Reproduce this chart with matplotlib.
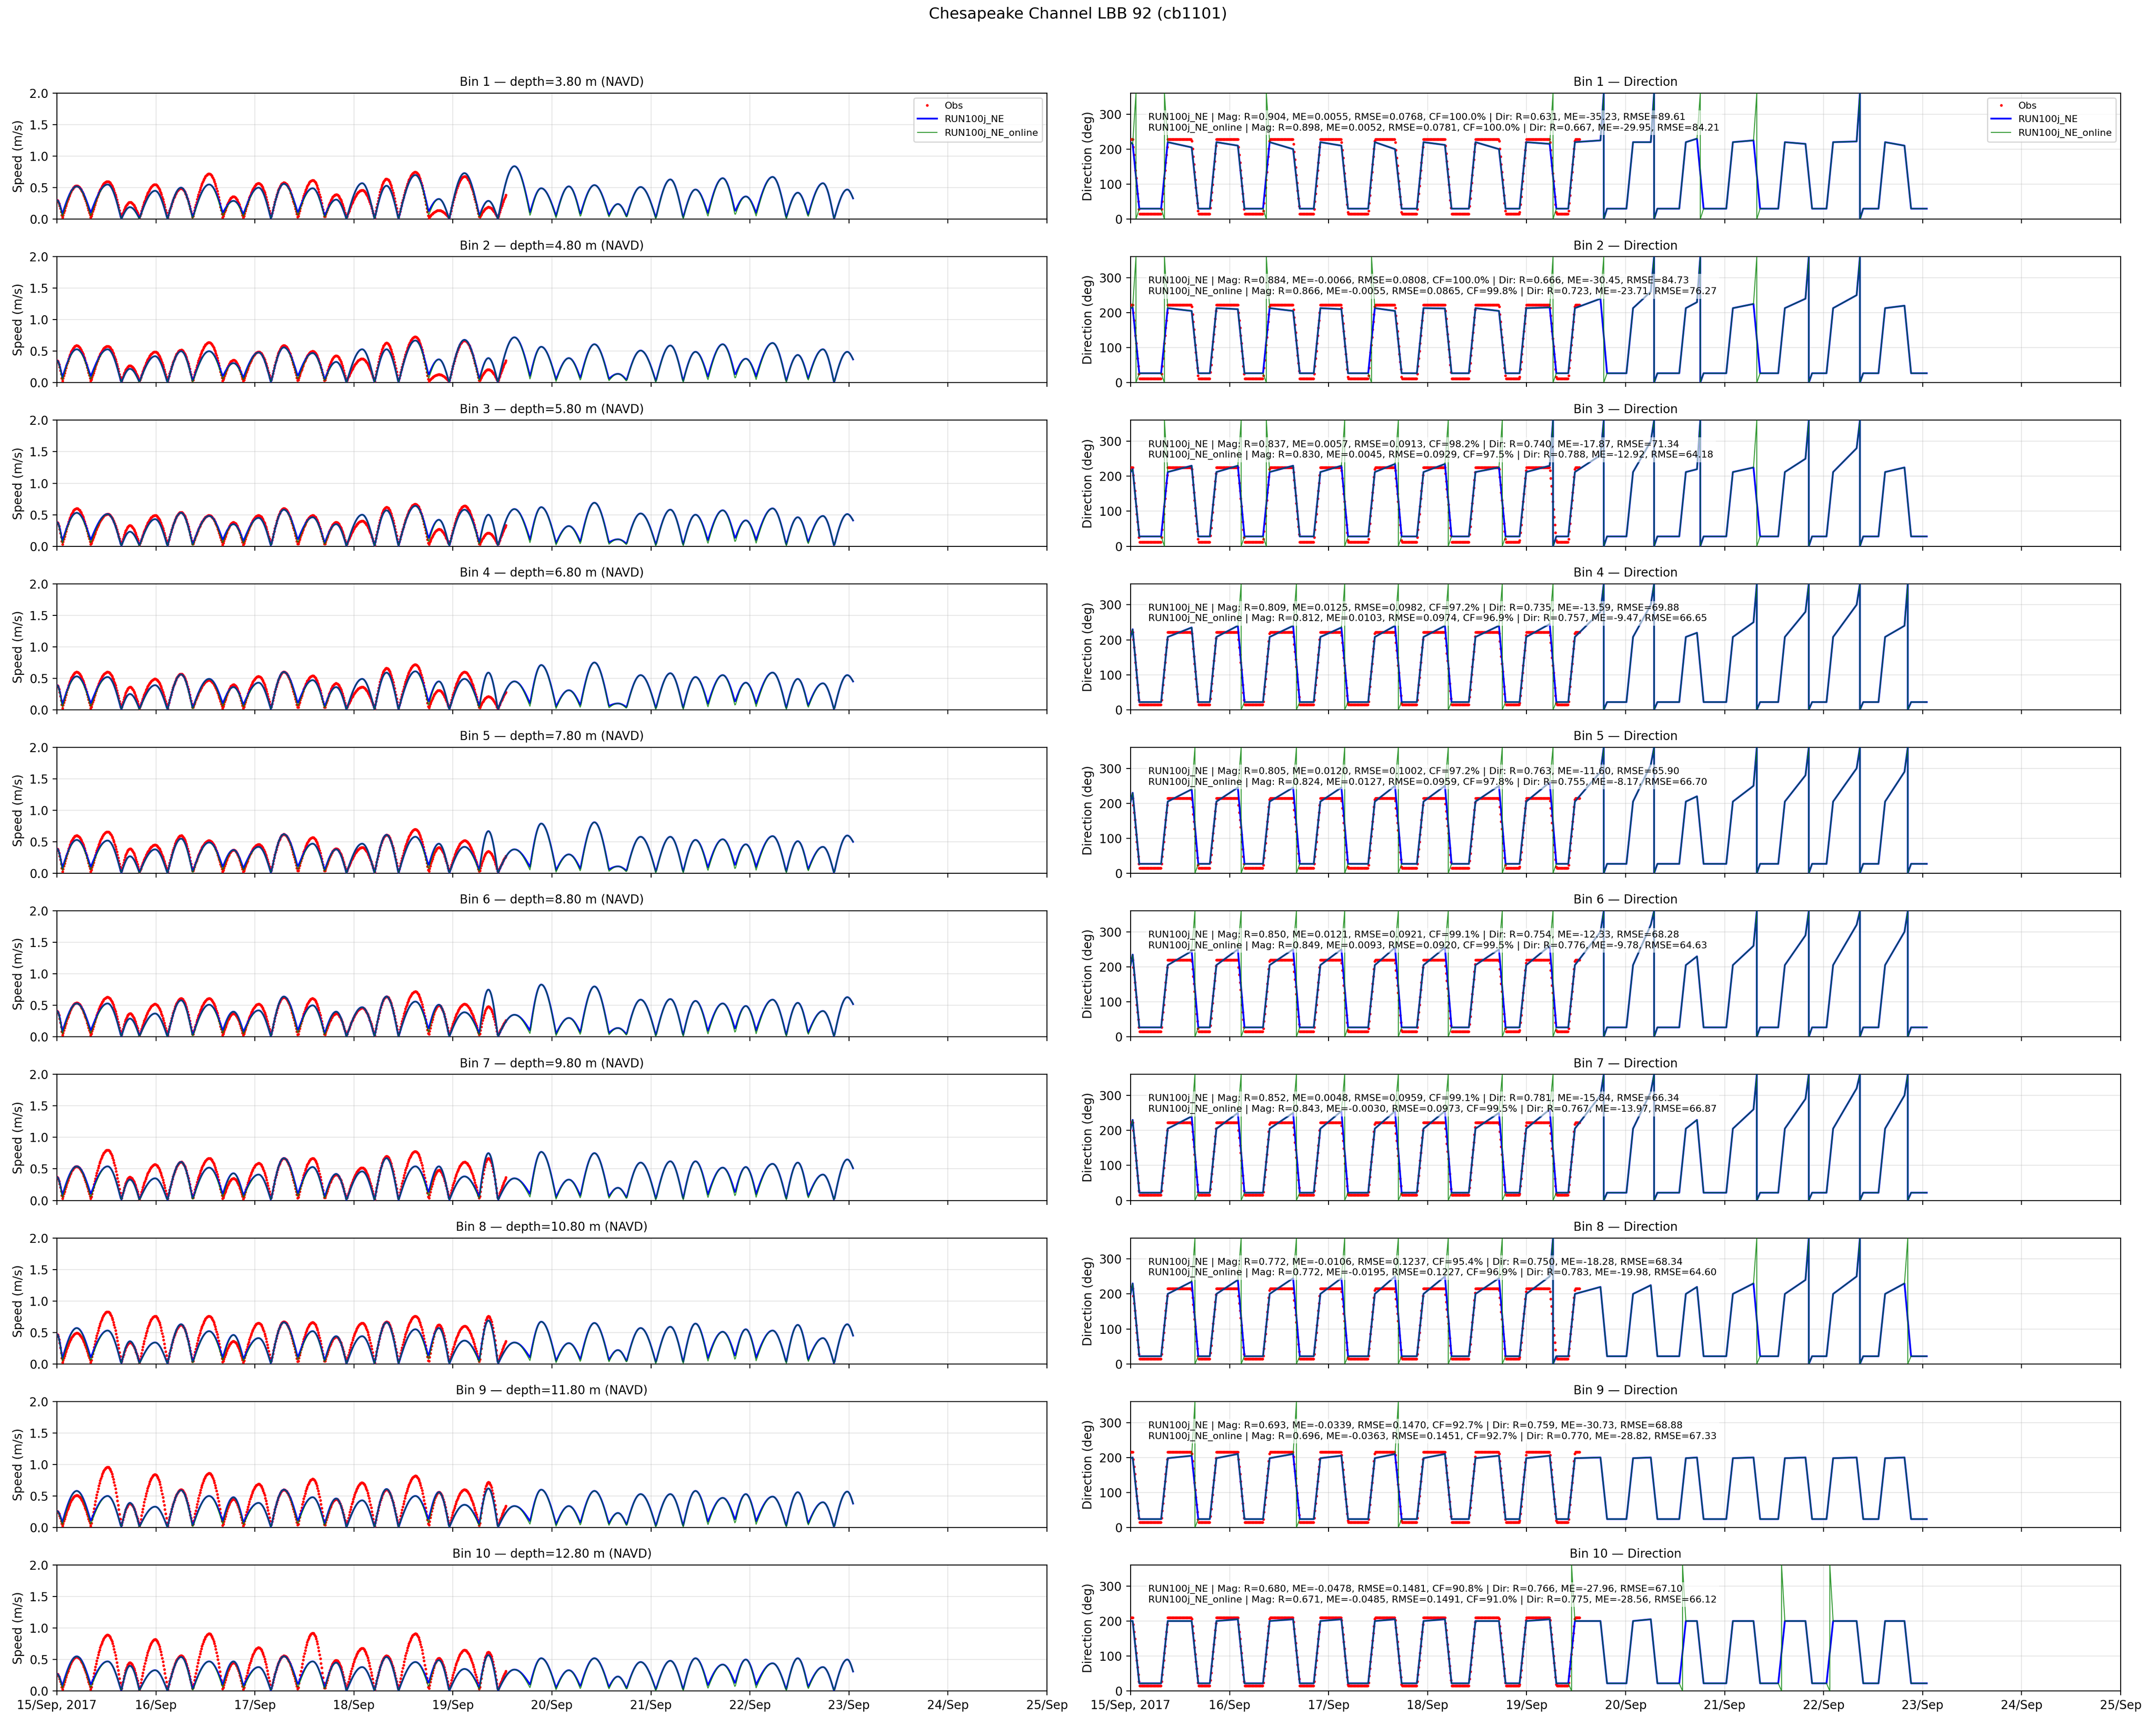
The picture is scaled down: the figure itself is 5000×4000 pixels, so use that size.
import numpy as np
import pandas as pd
import matplotlib
matplotlib.use("Agg")
import matplotlib.pyplot as plt
import matplotlib.dates as mdates

START = pd.Timestamp("2017-09-15 00:00")
MODEL_END_H = 193.0
OBS_END_H = 109.0

DEPTHS = [3.80, 4.80, 5.80, 6.80, 7.80, 8.80, 9.80, 10.80, 11.80, 12.80]

# hours after 15 Sep 00:00 of the tidal extremes
PEAK_HOURS = [4.8, 12.3, 17.7, 23.8, 30.1, 36.9, 42.8, 48.9, 55.0, 62.0, 67.7,
              74.0, 79.9, 86.9, 92.6, 98.8, 104.6, 110.9, 117.4, 124.1, 130.3,
              136.0, 141.5, 148.7, 154.8, 161.4, 167.0, 173.5, 179.6, 185.7, 191.6]
SLACK_HOURS = [1.3, 8.2, 15.6, 20.0, 26.8, 32.9, 40.2, 45.2, 51.9, 58.4, 64.9,
               70.2, 77.0, 82.8, 90.1, 95.1, 102.4, 106.9, 114.7, 121.0, 126.9,
               133.8, 138.1, 145.2, 151.8, 157.8, 164.4, 169.5, 176.8, 182.1, 188.4]
SLACK_SPEED_NE = [0.08, 0.10, 0.00, 0.01, 0.00, 0.02, 0.10, 0.08, 0.00, 0.10, 0.05,
                  0.00, 0.00, 0.00, 0.12, 0.00, 0.05, 0.00, 0.10, 0.05, 0.07,
                  0.06, 0.04, 0.02, 0.02, 0.09, 0.12, 0.10, 0.02, 0.06, 0.00]
SLACK_SPEED_ONLINE = [0.04, 0.05, 0.00, 0.00, 0.00, 0.00, 0.05, 0.04, 0.00, 0.05, 0.02,
                      0.00, 0.00, 0.00, 0.06, 0.00, 0.02, 0.00, 0.05, 0.02, 0.03,
                      0.03, 0.02, 0.00, 0.00, 0.04, 0.06, 0.05, 0.00, 0.03, 0.00]
OBS_SLACK_SPEED = 0.02

# model peak speed (m/s) for each bin
MODEL_PEAKS = [
    [0.52, 0.55, 0.19, 0.45, 0.50, 0.55, 0.29, 0.50, 0.56, 0.49, 0.31, 0.57, 0.53, 0.70, 0.32, 0.73,
     0.29, 0.84, 0.49, 0.52, 0.54, 0.24, 0.51, 0.63, 0.47, 0.65, 0.36, 0.67, 0.42, 0.57, 0.47],
    [0.53, 0.53, 0.22, 0.42, 0.50, 0.50, 0.31, 0.48, 0.56, 0.47, 0.33, 0.53, 0.53, 0.67, 0.37, 0.68,
     0.39, 0.72, 0.57, 0.39, 0.61, 0.14, 0.51, 0.59, 0.49, 0.61, 0.38, 0.63, 0.44, 0.53, 0.49],
    [0.53, 0.51, 0.23, 0.43, 0.53, 0.48, 0.35, 0.45, 0.58, 0.46, 0.35, 0.50, 0.57, 0.64, 0.42, 0.58,
     0.50, 0.59, 0.62, 0.32, 0.69, 0.11, 0.52, 0.58, 0.50, 0.57, 0.41, 0.60, 0.46, 0.48, 0.51],
    [0.53, 0.52, 0.25, 0.39, 0.56, 0.49, 0.36, 0.43, 0.60, 0.47, 0.36, 0.49, 0.59, 0.61, 0.45, 0.49,
     0.59, 0.45, 0.71, 0.31, 0.75, 0.10, 0.55, 0.58, 0.52, 0.55, 0.43, 0.59, 0.49, 0.42, 0.55],
    [0.53, 0.52, 0.27, 0.38, 0.55, 0.49, 0.37, 0.42, 0.62, 0.47, 0.38, 0.47, 0.61, 0.58, 0.47, 0.42,
     0.67, 0.38, 0.79, 0.30, 0.81, 0.11, 0.58, 0.58, 0.53, 0.54, 0.46, 0.59, 0.51, 0.42, 0.60],
    [0.53, 0.53, 0.29, 0.37, 0.58, 0.51, 0.40, 0.42, 0.64, 0.50, 0.40, 0.47, 0.64, 0.56, 0.51, 0.39,
     0.75, 0.35, 0.83, 0.30, 0.80, 0.14, 0.59, 0.60, 0.57, 0.53, 0.49, 0.59, 0.54, 0.41, 0.63],
    [0.54, 0.54, 0.33, 0.35, 0.61, 0.52, 0.43, 0.41, 0.67, 0.53, 0.42, 0.46, 0.67, 0.54, 0.54, 0.38,
     0.75, 0.35, 0.77, 0.33, 0.75, 0.20, 0.60, 0.62, 0.62, 0.52, 0.53, 0.58, 0.60, 0.41, 0.65],
    [0.57, 0.53, 0.36, 0.34, 0.63, 0.52, 0.46, 0.41, 0.66, 0.52, 0.44, 0.44, 0.66, 0.55, 0.57, 0.37,
     0.69, 0.34, 0.67, 0.33, 0.65, 0.22, 0.57, 0.59, 0.64, 0.51, 0.55, 0.53, 0.62, 0.41, 0.63],
    [0.58, 0.50, 0.39, 0.33, 0.59, 0.50, 0.48, 0.39, 0.60, 0.48, 0.46, 0.43, 0.61, 0.50, 0.56, 0.36,
     0.62, 0.34, 0.60, 0.34, 0.58, 0.23, 0.53, 0.53, 0.58, 0.47, 0.53, 0.49, 0.56, 0.40, 0.57],
    [0.55, 0.47, 0.40, 0.33, 0.54, 0.47, 0.47, 0.38, 0.55, 0.47, 0.45, 0.38, 0.54, 0.46, 0.49, 0.35,
     0.57, 0.34, 0.52, 0.33, 0.52, 0.23, 0.46, 0.48, 0.52, 0.42, 0.50, 0.44, 0.52, 0.38, 0.50],
]
MODEL_START_SPEED = [0.30, 0.35, 0.38, 0.39, 0.39, 0.41, 0.37, 0.47, 0.26, 0.27]
MODEL_END_SPEED = [0.33, 0.37, 0.41, 0.45, 0.50, 0.52, 0.51, 0.45, 0.38, 0.31]

# observed peak speed (m/s) for each bin, first 18 half cycles
OBS_PEAKS = [
    [0.53, 0.60, 0.27, 0.55, 0.49, 0.72, 0.36, 0.57, 0.58, 0.62, 0.39, 0.46, 0.64, 0.75, 0.14, 0.68, 0.19, 0.55],
    [0.59, 0.58, 0.27, 0.49, 0.52, 0.64, 0.36, 0.49, 0.59, 0.50, 0.43, 0.38, 0.63, 0.73, 0.13, 0.67, 0.21, 0.50],
    [0.60, 0.51, 0.33, 0.49, 0.54, 0.49, 0.38, 0.49, 0.60, 0.49, 0.38, 0.40, 0.62, 0.67, 0.27, 0.64, 0.21, 0.47],
    [0.60, 0.60, 0.36, 0.49, 0.57, 0.47, 0.40, 0.53, 0.60, 0.54, 0.42, 0.36, 0.66, 0.72, 0.31, 0.60, 0.21, 0.40],
    [0.60, 0.66, 0.39, 0.45, 0.60, 0.52, 0.37, 0.46, 0.62, 0.57, 0.39, 0.41, 0.61, 0.70, 0.41, 0.52, 0.35, 0.39],
    [0.54, 0.63, 0.37, 0.52, 0.61, 0.61, 0.37, 0.52, 0.63, 0.61, 0.37, 0.46, 0.64, 0.72, 0.50, 0.52, 0.48, 0.37],
    [0.54, 0.80, 0.37, 0.57, 0.61, 0.67, 0.35, 0.59, 0.67, 0.67, 0.41, 0.52, 0.70, 0.78, 0.48, 0.61, 0.67, 0.52],
    [0.49, 0.83, 0.34, 0.76, 0.62, 0.76, 0.36, 0.65, 0.67, 0.66, 0.43, 0.65, 0.67, 0.76, 0.62, 0.60, 0.76, 0.52],
    [0.51, 0.96, 0.38, 0.84, 0.60, 0.86, 0.45, 0.69, 0.60, 0.77, 0.45, 0.71, 0.60, 0.82, 0.56, 0.60, 0.72, 0.49],
    [0.54, 0.89, 0.45, 0.82, 0.56, 0.91, 0.45, 0.69, 0.56, 0.92, 0.49, 0.68, 0.56, 0.91, 0.52, 0.65, 0.62, 0.45],
]
OBS_START_SPEED = [0.30, 0.35, 0.38, 0.39, 0.39, 0.41, 0.37, 0.47, 0.26, 0.27]

# model direction (deg): flood level, ebb level at start, ebb level at the end of each ebb
DIR_FLOOD = [30, 27, 28, 22, 27, 27, 22, 22, 24, 22]
DIR_EBB = [220, 213, 212, 208, 205, 205, 205, 200, 198, 200]
DIR_EBB_END = [
    [214, 205, 210, 200, 210, 200, 212, 200, 215, 225, 220, 230, 225, 215, 222, 210],
    [215, 205, 210, 205, 210, 205, 212, 205, 215, 240, 260, 230, 225, 240, 250, 220],
    [220, 230, 230, 230, 230, 235, 235, 225, 230, 260, 300, 220, 225, 250, 280, 225],
    [230, 235, 240, 240, 235, 240, 240, 240, 245, 280, 300, 220, 250, 280, 300, 240],
    [230, 240, 245, 245, 245, 250, 250, 250, 260, 290, 310, 220, 250, 280, 300, 290],
    [235, 245, 250, 250, 250, 255, 255, 250, 260, 300, 320, 230, 260, 290, 320, 300],
    [230, 240, 250, 250, 255, 255, 255, 250, 260, 300, 310, 230, 260, 290, 320, 300],
    [230, 235, 240, 245, 245, 250, 250, 245, 250, 220, 225, 220, 230, 240, 250, 230],
    [200, 205, 210, 210, 205, 210, 210, 205, 205, 200, 200, 200, 200, 200, 200, 200],
    [200, 200, 205, 205, 205, 205, 205, 200, 205, 200, 205, 200, 200, 200, 200, 200],
]
# slack numbers (1-based) where the direction line wraps through 0/360
WRAP_NE = [
    [19, 21, 29],
    [21, 23, 27, 29],
    [17, 19, 21, 23, 27, 29],
    [19, 21, 25, 27, 29, 31],
    [19, 21, 25, 27, 29, 31],
    [19, 21, 25, 27, 29, 31],
    [19, 21, 25, 27, 29, 31],
    [17, 27, 29],
    [],
    [],
]
WRAP_ONLINE = [
    [1, 2, 6, 17, 19, 21, 23, 25, 29],
    [1, 2, 6, 10, 17, 19, 21, 23, 25, 27, 29],
    [2, 5, 6, 9, 11, 13, 15, 17, 19, 21, 23, 25, 27, 29],
    [5, 7, 9, 11, 13, 15, 17, 19, 21, 25, 27, 29, 31],
    [3, 5, 7, 9, 11, 13, 15, 17, 19, 21, 25, 27, 29, 31],
    [3, 5, 7, 9, 11, 13, 15, 17, 19, 21, 25, 27, 29, 31],
    [3, 5, 7, 9, 11, 13, 15, 17, 19, 21, 25, 27, 29, 31],
    [3, 5, 7, 9, 11, 13, 15, 17, 25, 27, 29, 31],
    [3, 7, 11],
    [18, 22, 26, 28],
]
OBS_DIR_FLOOD = [15, 12, 12, 15, 15, 15, 15, 15, 15, 15]
OBS_DIR_EBB = [228, 222, 225, 222, 215, 220, 222, 215, 215, 210]

# skill scores printed in the direction panels
# (Mag R, Mag ME, Mag RMSE, CF %, Dir R, Dir ME, Dir RMSE)
STATS_NE = [
    (0.904, 0.0055, 0.0768, 100.0, 0.631, -35.23, 89.61),
    (0.884, -0.0066, 0.0808, 100.0, 0.666, -30.45, 84.73),
    (0.837, 0.0057, 0.0913, 98.2, 0.740, -17.87, 71.34),
    (0.809, 0.0125, 0.0982, 97.2, 0.735, -13.59, 69.88),
    (0.805, 0.0120, 0.1002, 97.2, 0.763, -11.60, 65.90),
    (0.850, 0.0121, 0.0921, 99.1, 0.754, -12.33, 68.28),
    (0.852, 0.0048, 0.0959, 99.1, 0.781, -15.84, 66.34),
    (0.772, -0.0106, 0.1237, 95.4, 0.750, -18.28, 68.34),
    (0.693, -0.0339, 0.1470, 92.7, 0.759, -30.73, 68.88),
    (0.680, -0.0478, 0.1481, 90.8, 0.766, -27.96, 67.10),
]
STATS_ONLINE = [
    (0.898, 0.0052, 0.0781, 100.0, 0.667, -29.95, 84.21),
    (0.866, -0.0055, 0.0865, 99.8, 0.723, -23.71, 76.27),
    (0.830, 0.0045, 0.0929, 97.5, 0.788, -12.92, 64.18),
    (0.812, 0.0103, 0.0974, 96.9, 0.757, -9.47, 66.65),
    (0.824, 0.0127, 0.0959, 97.8, 0.755, -8.17, 66.70),
    (0.849, 0.0093, 0.0920, 99.5, 0.776, -9.78, 64.63),
    (0.843, -0.0030, 0.0973, 99.5, 0.767, -13.97, 66.87),
    (0.772, -0.0195, 0.1227, 96.9, 0.783, -19.98, 64.60),
    (0.696, -0.0363, 0.1451, 92.7, 0.770, -28.82, 67.33),
    (0.671, -0.0485, 0.1491, 91.0, 0.775, -28.56, 66.12),
]


def interleave(a, b):
    out = []
    for x, y in zip(a, b):
        out += [x, y]
    return out


def tidal_speed(hours, kh, kv):
    # rounded at the peaks, sharp at slack water
    kh = np.asarray(kh, float)
    kv = np.asarray(kv, float)
    i = np.clip(np.searchsorted(kh, hours, side="right") - 1, 0, len(kh) - 2)
    h0, h1, v0, v1 = kh[i], kh[i + 1], kv[i], kv[i + 1]
    s = np.clip((hours - h0) / (h1 - h0), 0, 1)
    up = v0 + (v1 - v0) * np.sin(np.pi / 2 * s)
    down = v1 + (v0 - v1) * np.cos(np.pi / 2 * s)
    return np.where(v1 >= v0, up, down)


def direction_path(flood, ebb, ebb_end, wraps, end_h, d=0.8):
    bounds = [0.0] + SLACK_HOURS + [end_h]
    ph, pv = [], []
    for j in range(len(bounds) - 1):
        a, b = bounds[j], bounds[j + 1]
        if j % 2 == 0:
            vs, ve = ebb, ebb_end[j // 2]
        else:
            vs, ve = flood, flood
        if j > 0:
            if j in wraps:
                if pv[-1] > vs:
                    ph += [a, a]
                    pv += [360, 0]
                else:
                    ph += [a, a]
                    pv += [0, 360]
            a = a + d
        bb = b - d if j < len(bounds) - 2 else b
        ph += [a, bb]
        pv += [vs, ve]
    return np.array(ph), np.array(pv)


def to_time(hours):
    return START + pd.to_timedelta(hours, unit="h")


def day_label(x, pos=None):
    d = mdates.num2date(x)
    if d.day == 15:
        return d.strftime("%d/%b, %Y")
    return d.strftime("%d/%b")


model_h = np.arange(0, MODEL_END_H + 1e-9, 1 / 6)
obs_h = np.arange(0, OBS_END_H, 1 / 6)

fig, axes = plt.subplots(10, 2, figsize=(25, 20), sharex=True)
fig.subplots_adjust(left=0.0264, right=0.9836, top=0.946, bottom=0.0197,
                    wspace=0.0845, hspace=0.298)
fig.suptitle("Chesapeake Channel LBB 92 (cb1101)", fontsize=13, y=0.996)

for b in range(10):
    ax_s, ax_d = axes[b, 0], axes[b, 1]

    # ---- speed ----
    kh = [0.0] + interleave(SLACK_HOURS, PEAK_HOURS) + [MODEL_END_H]
    kv_ne = [MODEL_START_SPEED[b]] + interleave(SLACK_SPEED_NE, MODEL_PEAKS[b]) + [MODEL_END_SPEED[b]]
    kv_on = [MODEL_START_SPEED[b]] + interleave(SLACK_SPEED_ONLINE, MODEL_PEAKS[b]) + [MODEL_END_SPEED[b]]
    n_obs = len(OBS_PEAKS[b])
    kh_obs = [0.0] + interleave(SLACK_HOURS[:n_obs], PEAK_HOURS[:n_obs])
    kv_obs = [OBS_START_SPEED[b]] + interleave([OBS_SLACK_SPEED] * n_obs, OBS_PEAKS[b])

    spd_ne = tidal_speed(model_h, kh, kv_ne)
    spd_on = tidal_speed(model_h, kh, kv_on)
    spd_obs = tidal_speed(obs_h, kh_obs, kv_obs)

    ax_s.plot(to_time(obs_h), spd_obs, ".", color="red", ms=2.5, label="Obs", zorder=3)
    ax_s.plot(to_time(model_h), spd_ne, color="blue", lw=1.5, label="RUN100j_NE", zorder=4)
    ax_s.plot(to_time(model_h), spd_on, color="green", lw=0.8, alpha=0.8,
              label="RUN100j_NE_online", zorder=5)
    ax_s.set_ylim(0, 2)
    ax_s.set_ylabel("Speed (m/s)")
    ax_s.set_title(f"Bin {b + 1} \u2014 depth={DEPTHS[b]:.2f} m (NAVD)", fontsize=10)
    ax_s.grid(True, alpha=0.3)

    # ---- direction ----
    dh_ne, dv_ne = direction_path(DIR_FLOOD[b], DIR_EBB[b], DIR_EBB_END[b], WRAP_NE[b], MODEL_END_H)
    dh_on, dv_on = direction_path(DIR_FLOOD[b], DIR_EBB[b], DIR_EBB_END[b], WRAP_ONLINE[b], MODEL_END_H)
    oh, ov = direction_path(OBS_DIR_FLOOD[b], OBS_DIR_EBB[b], [OBS_DIR_EBB[b]] * 16, [], MODEL_END_H)
    dir_obs = np.interp(obs_h, oh, ov)

    ax_d.plot(to_time(obs_h), dir_obs, ".", color="red", ms=2.5, label="Obs", zorder=3)
    ax_d.plot(to_time(dh_ne), dv_ne, color="blue", lw=1.5, label="RUN100j_NE", zorder=4)
    ax_d.plot(to_time(dh_on), dv_on, color="green", lw=0.8, alpha=0.8,
              label="RUN100j_NE_online", zorder=5)
    ax_d.set_ylim(0, 360)
    ax_d.set_ylabel("Direction (deg)")
    ax_d.set_title(f"Bin {b + 1} \u2014 Direction", fontsize=10)
    ax_d.grid(True, alpha=0.3)

    s1, s2 = STATS_NE[b], STATS_ONLINE[b]
    txt = (f"RUN100j_NE | Mag: R={s1[0]:.3f}, ME={s1[1]:.4f}, RMSE={s1[2]:.4f}, CF={s1[3]:.1f}% | "
           f"Dir: R={s1[4]:.3f}, ME={s1[5]:.2f}, RMSE={s1[6]:.2f}\n"
           f"RUN100j_NE_online | Mag: R={s2[0]:.3f}, ME={s2[1]:.4f}, RMSE={s2[2]:.4f}, CF={s2[3]:.1f}% | "
           f"Dir: R={s2[4]:.3f}, ME={s2[5]:.2f}, RMSE={s2[6]:.2f}")
    ax_d.text(0.018, 0.765, txt, transform=ax_d.transAxes, fontsize=8, va="center", ha="left",
              zorder=10, bbox=dict(facecolor="white", alpha=0.6, edgecolor="none", pad=2))

    if b == 0:
        ax_s.legend(loc="upper right", fontsize=8)
        ax_d.legend(loc="upper right", fontsize=8)

for ax in axes.flat:
    ax.set_xlim(START, START + pd.Timedelta(days=10))
    ax.xaxis.set_major_locator(mdates.DayLocator())
    ax.xaxis.set_major_formatter(plt.FuncFormatter(day_label))

fig.savefig("out.png", dpi=200)
